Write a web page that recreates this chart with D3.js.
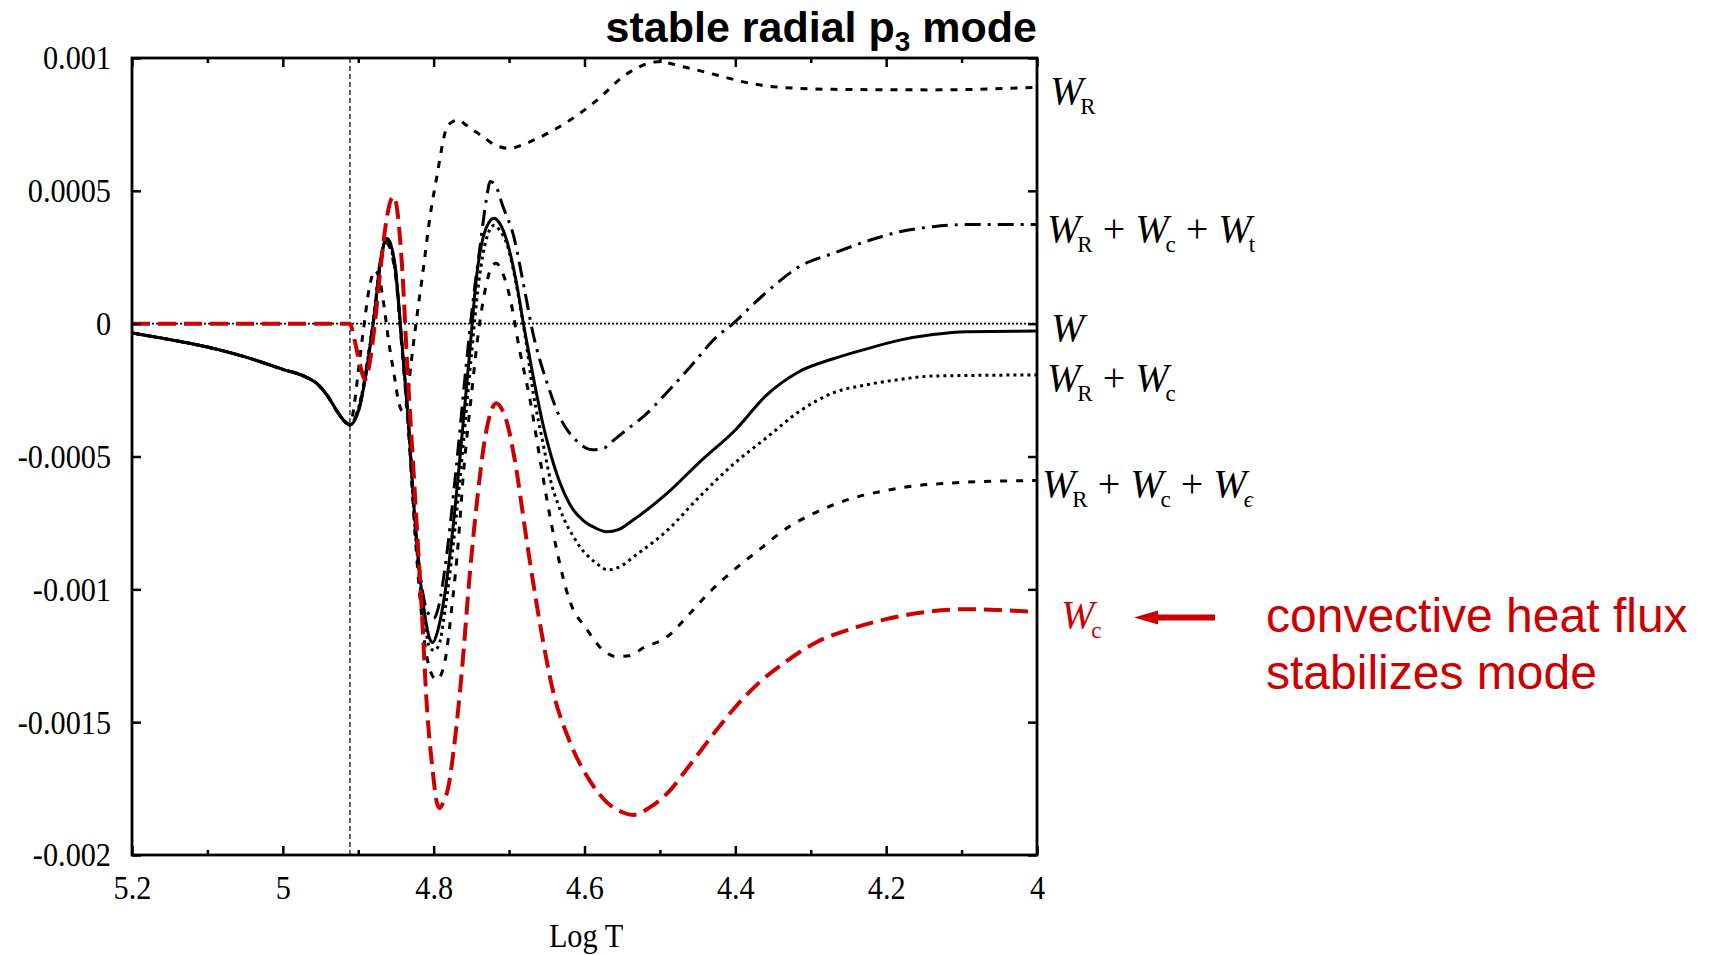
<!DOCTYPE html>
<html><head><meta charset="utf-8">
<script src="https://cdn.jsdelivr.net/npm/d3@7"></script>
<style>body{margin:0;background:#fff} svg{display:block}</style>
</head><body><svg id="c" width="1712" height="955"></svg>
<script>
// ---------- data ----------
const xTicks = [5.2, 5, 4.8, 4.6, 4.4, 4.2, 4];
const xTickLabels = ["5.2", "5", "4.8", "4.6", "4.4", "4.2", "4"];
const xMinorTicks = [5.1, 4.9, 4.7, 4.5, 4.3, 4.1];
const yTicks = [0.001, 0.0005, 0, -0.0005, -0.001, -0.0015, -0.002];
const yTickLabels = ["0.001", "0.0005", "0", "-0.0005", "-0.001", "-0.0015", "-0.002"];
const convectionOnset = 4.911;

// common part of all black curves (before convection sets in)
const sharedLeft = [[5.2,-0.000035],[5.15,-0.00006],[5.1,-0.000088],[5.05,-0.000125],[5.0,-0.000172],[4.97,-0.0002],[4.955,-0.000225],[4.94,-0.000275],[4.928,-0.00033],[4.918,-0.000368],[4.911,-0.000381]];

const wTotal = [[4.905,-0.000365],[4.898,-0.000312],[4.891,-0.00021],[4.885,-0.0001],[4.878,0.00005],[4.871,0.000228],[4.866,0.0003],[4.862,0.000321],[4.857,0.0003],[4.851,0.000215],[4.843,-0.00004],[4.834,-0.00035],[4.823,-0.00081],[4.812,-0.00109],[4.806,-0.00118],[4.801,-0.0012],[4.795,-0.00116],[4.787,-0.00105],[4.776,-0.00081],[4.767,-0.00056],[4.752,-0.0001],[4.743,0.00018],[4.734,0.00033],[4.727,0.00038],[4.72,0.000397],[4.713,0.00038],[4.705,0.00033],[4.69,0.00015],[4.681,0.0],[4.668,-0.0002],[4.655,-0.00038],[4.644,-0.0005],[4.635,-0.00058],[4.628,-0.00063],[4.615,-0.0007],[4.602,-0.00074],[4.585,-0.00077],[4.571,-0.000783],[4.555,-0.000775],[4.536,-0.00074],[4.491,-0.00064],[4.447,-0.00052],[4.4,-0.0004],[4.359,-0.00027],[4.315,-0.00018],[4.27,-0.000132],[4.226,-0.000095],[4.182,-0.000062],[4.138,-0.000041],[4.094,-0.00003],[4.0,-0.000028]];

const wR = [[4.905,-0.0003],[4.9,-0.00018],[4.893,-0.00002],[4.885,0.00014],[4.878,0.0002],[4.872,0.00017],[4.866,0.00007],[4.86,-0.00006],[4.852,-0.0002],[4.846,-0.0003],[4.841,-0.00033],[4.836,-0.0003],[4.83,-0.00015],[4.823,0.00001],[4.814,0.0002],[4.805,0.0004],[4.796,0.00055],[4.783,0.000735],[4.775,0.00076],[4.767,0.000767],[4.758,0.00075],[4.748,0.00073],[4.733,0.0007],[4.717,0.00067],[4.699,0.00066],[4.685,0.00067],[4.672,0.000685],[4.628,0.00075],[4.584,0.00084],[4.544,0.00094],[4.502,0.000986],[4.469,0.000967],[4.425,0.000936],[4.381,0.000905],[4.35,0.000892],[4.27,0.000882],[4.138,0.00088],[4.0,0.00089]];

const wRc = [[4.905,-0.00036],[4.898,-0.0003],[4.885,-0.00009],[4.878,0.00006],[4.871,0.00023],[4.862,0.00031],[4.851,0.0002],[4.843,-0.00005],[4.834,-0.00036],[4.823,-0.00083],[4.812,-0.00112],[4.805,-0.00122],[4.799,-0.00123],[4.792,-0.0012],[4.785,-0.00108],[4.774,-0.00083],[4.765,-0.00058],[4.75,-0.00012],[4.74,0.00016],[4.73,0.00032],[4.72,0.00037],[4.712,0.00035],[4.703,0.0003],[4.688,0.00011],[4.678,-0.00006],[4.668,-0.00026],[4.655,-0.00045],[4.645,-0.00059],[4.635,-0.00068],[4.628,-0.00073],[4.615,-0.0008],[4.606,-0.00084],[4.585,-0.0009],[4.569,-0.000927],[4.55,-0.00091],[4.536,-0.00088],[4.491,-0.00078],[4.447,-0.00065],[4.403,-0.00053],[4.359,-0.00043],[4.315,-0.00033],[4.27,-0.00026],[4.226,-0.00023],[4.182,-0.00021],[4.138,-0.000197],[4.0,-0.000193]];

const wRcEps = [[4.905,-0.00036],[4.898,-0.0003],[4.885,-0.00009],[4.878,0.00005],[4.871,0.00022],[4.862,0.0003],[4.851,0.00019],[4.843,-0.00006],[4.834,-0.00038],[4.823,-0.00086],[4.812,-0.0012],[4.804,-0.00131],[4.796,-0.00134],[4.79,-0.00132],[4.785,-0.00127],[4.776,-0.00107],[4.767,-0.00081],[4.761,-0.00058],[4.75,-0.00027],[4.741,-0.00004],[4.73,0.00015],[4.722,0.00022],[4.717,0.000227],[4.71,0.0002],[4.699,0.0001],[4.686,-0.0001],[4.672,-0.00029],[4.659,-0.00051],[4.65,-0.00066],[4.637,-0.00085],[4.62,-0.00104],[4.597,-0.00115],[4.575,-0.00123],[4.558,-0.001253],[4.54,-0.00125],[4.522,-0.00122],[4.491,-0.00118],[4.46,-0.00109],[4.434,-0.00101],[4.403,-0.00093],[4.368,-0.00085],[4.332,-0.00077],[4.293,-0.00071],[4.248,-0.00066],[4.204,-0.00063],[4.16,-0.00061],[4.116,-0.0006],[4.0,-0.00059]];

const wRct = [[4.905,-0.00036],[4.898,-0.00031],[4.885,-0.0001],[4.878,0.00005],[4.871,0.00023],[4.862,0.00032],[4.851,0.00021],[4.843,-0.00005],[4.834,-0.00035],[4.823,-0.0008],[4.812,-0.00105],[4.805,-0.0011],[4.8,-0.00111],[4.793,-0.00106],[4.785,-0.00092],[4.77,-0.00054],[4.757,-0.00016],[4.748,0.00008],[4.739,0.00028],[4.73,0.00047],[4.725,0.000535],[4.718,0.00052],[4.708,0.00044],[4.694,0.00033],[4.681,0.00015],[4.668,-0.00004],[4.65,-0.00022],[4.633,-0.00035],[4.611,-0.00044],[4.589,-0.000475],[4.575,-0.00047],[4.562,-0.00044],[4.54,-0.00039],[4.522,-0.00035],[4.491,-0.00026],[4.456,-0.00015],[4.425,-0.00005],[4.403,0.0],[4.381,0.00006],[4.35,0.00014],[4.315,0.000215],[4.27,0.000265],[4.226,0.00031],[4.182,0.000346],[4.138,0.000365],[4.094,0.000373],[4.0,0.000373]];

const wC = [[5.2,0],[4.911,0],[4.905,-0.00006],[4.898,-0.00015],[4.891,-0.00021],[4.885,-0.00015],[4.878,0.0],[4.87,0.00022],[4.862,0.0004],[4.856,0.00047],[4.852,0.000478],[4.848,0.00042],[4.842,0.00022],[4.835,-0.00016],[4.827,-0.00054],[4.822,-0.00078],[4.816,-0.00107],[4.809,-0.00144],[4.801,-0.00169],[4.796,-0.0018],[4.792,-0.001824],[4.787,-0.0018],[4.781,-0.00175],[4.772,-0.00157],[4.763,-0.00132],[4.752,-0.00094],[4.741,-0.00063],[4.733,-0.00045],[4.725,-0.00034],[4.717,-0.0003],[4.71,-0.00032],[4.704,-0.00036],[4.692,-0.00052],[4.677,-0.00081],[4.659,-0.00113],[4.642,-0.00138],[4.62,-0.00157],[4.593,-0.00172],[4.571,-0.0018],[4.549,-0.00184],[4.535,-0.001849],[4.513,-0.00182],[4.491,-0.00177],[4.46,-0.00166],[4.425,-0.00153],[4.399,-0.00144],[4.368,-0.00135],[4.332,-0.00127],[4.293,-0.0012],[4.248,-0.00115],[4.204,-0.001115],[4.16,-0.00109],[4.094,-0.001075],[4.05,-0.001078],[4.0,-0.001085]];

// label anchor values on the right side
const labelValues = [0.00089, 0.00037, 0.0, -0.00019, -0.00059, -0.00108];

// ---------- drawing ----------
const RED = "#cc0000";
const SERIF = "'Liberation Serif','Times New Roman',serif";
const SANS = "'Liberation Sans',Arial,sans-serif";
const NARROW = 0.89;
const svg = d3.select("#c");
const L = 132, R = 1037, T = 58, B = 855;
const x = d3.scaleLinear().domain([5.2, 4.0]).range([L, R]);
const y = d3.scaleLinear().domain([-0.002, 0.001]).range([B, T]);

svg.append("defs").append("clipPath").attr("id","clip")
  .append("rect").attr("x",L).attr("y",T).attr("width",R-L).attr("height",B-T);

const plot = svg.append("g").attr("clip-path","url(#clip)");

// zero line
plot.append("line").attr("x1",L).attr("x2",R).attr("y1",y(0)).attr("y2",y(0))
  .attr("stroke","#000").attr("stroke-width",1.8).attr("stroke-dasharray","2,2");
// onset of convection
plot.append("line").attr("x1",x(convectionOnset)).attr("x2",x(convectionOnset)).attr("y1",T).attr("y2",B)
  .attr("stroke","#000").attr("stroke-width",1.2).attr("stroke-dasharray","5,3");

const line = d3.line().x(d=>x(d[0])).y(d=>y(d[1])).curve(d3.curveMonotoneX);

const series = [
  {data: sharedLeft.concat(wR),     color:"#000", w:3,   dash:"7,8"},
  {data: sharedLeft.concat(wRcEps), color:"#000", w:3,   dash:"7,9"},
  {data: sharedLeft.concat(wRc),    color:"#000", w:3,   dash:"3,4"},
  {data: sharedLeft.concat(wRct),   color:"#000", w:3,   dash:"16,7,3,7"},
  {data: sharedLeft.concat(wTotal), color:"#000", w:3,   dash:null},
  {data: wC,                        color:RED,    w:4,   dash:"18,8"}
];
series.forEach(s=>{
  plot.append("path").datum(s.data).attr("d",line)
    .attr("fill","none").attr("stroke",s.color).attr("stroke-width",s.w)
    .attr("stroke-linejoin","round")
    .attr("stroke-dasharray",s.dash);
});

// axes
function styleAxis(g){
  g.select(".domain").remove();
  g.selectAll(".tick line").attr("stroke","#000").attr("stroke-width",2.5);
  g.selectAll(".tick text").attr("font-family",SERIF)
    .attr("font-size",34).attr("fill","#000")
    .attr("transform",`scale(${NARROW},1)`);
}
svg.append("g").attr("transform",`translate(0,${B})`)
  .call(d3.axisBottom(x).tickValues(xTicks).tickSize(-9).tickSizeOuter(0).tickPadding(20)
    .tickFormat((d,i)=>xTickLabels[i])).call(styleAxis);
svg.append("g").attr("transform",`translate(0,${B})`)
  .call(d3.axisBottom(x).tickValues(xMinorTicks).tickSize(-5).tickSizeOuter(0).tickFormat("")).call(styleAxis);
svg.append("g").attr("transform",`translate(0,${T})`)
  .call(d3.axisTop(x).tickValues(xTicks).tickSize(-9).tickSizeOuter(0).tickFormat("")).call(styleAxis);
svg.append("g").attr("transform",`translate(0,${T})`)
  .call(d3.axisTop(x).tickValues(xMinorTicks).tickSize(-5).tickSizeOuter(0).tickFormat("")).call(styleAxis);
const yAxisG = svg.append("g").attr("transform",`translate(${L},0)`)
  .call(d3.axisLeft(y).tickValues(yTicks).tickSize(-9).tickSizeOuter(0).tickPadding(19)
    .tickFormat((d,i)=>yTickLabels[i])).call(styleAxis);
yAxisG.selectAll(".tick text").attr("x", -21 / NARROW);
svg.append("g").attr("transform",`translate(${R},0)`)
  .call(d3.axisRight(y).tickValues(yTicks).tickSize(-9).tickSizeOuter(0).tickFormat("")).call(styleAxis);

svg.append("rect").attr("x",L).attr("y",T).attr("width",R-L).attr("height",B-T)
  .attr("fill","none").attr("stroke","#000").attr("stroke-width",2.8);

// axis title
svg.append("text").attr("x",586/NARROW).attr("y",947).attr("text-anchor","middle")
  .attr("transform",`scale(${NARROW},1)`)
  .attr("font-family",SERIF).attr("font-size",34)
  .text("Log T");

// chart title
const title = svg.append("text").attr("x",R).attr("y",42).attr("text-anchor","end")
  .attr("font-family",SANS).attr("font-weight","bold").attr("font-size",43);
title.append("tspan").text("stable radial p");
title.append("tspan").attr("font-size",28).attr("dy",9).text("3");
title.append("tspan").attr("dy",-9).text(" mode");

// right-hand labels
const labelDefs = [
  {parts:[["W","i"],["R","s"]], dx:13, color:"#000"},
  {parts:[["W","i"],["R","s"],[" + ","n"],["W","i"],["c","s"],[" + ","n"],["W","i"],["t","s"]], dx:10, color:"#000"},
  {parts:[["W","i"]], dx:14, color:"#000"},
  {parts:[["W","i"],["R","s"],[" + ","n"],["W","i"],["c","s"]], dx:10, color:"#000"},
  {parts:[["W","i"],["R","s"],[" + ","n"],["W","i"],["c","s"],[" + ","n"],["W","i"],["\u03F5","si"]], dx:5, color:"#000"},
  {parts:[["W","i"],["c","s"]], dx:24, color:RED}
];
labelDefs.forEach((ld,k)=>{
  const t = svg.append("text").attr("x",R+ld.dx).attr("y",y(labelValues[k])+17)
    .attr("font-family",SERIF).attr("font-size",40)
    .attr("fill",ld.color);
  let down = false;
  ld.parts.forEach(p=>{
    const sp = t.append("tspan").text(p[0]);
    if (p[1]==="s" || p[1]==="si"){
      sp.attr("font-size",23).attr("dx",-3).attr("dy",down?0:10);
      if (p[1]==="si") sp.attr("font-style","italic");
      down = true;
    } else {
      if (down){ sp.attr("dy",-10); down=false; }
      if (p[1]==="i") sp.attr("font-style","italic");
    }
  });
});

// arrow + annotation
const ay = y(labelValues[5]) + 7;
svg.append("line").attr("x1",1215).attr("x2",1152).attr("y1",ay).attr("y2",ay)
  .attr("stroke",RED).attr("stroke-width",6);
svg.append("path").attr("d",`M1134,${ay} L1158,${ay-7} L1158,${ay+7} Z`).attr("fill",RED);
const note = svg.append("text").attr("font-family",SANS)
  .attr("font-size",48).attr("fill",RED);
note.append("tspan").attr("x",1266).attr("y",632).text("convective heat flux");
note.append("tspan").attr("x",1266).attr("y",689).text("stabilizes mode");
</script></body></html>
